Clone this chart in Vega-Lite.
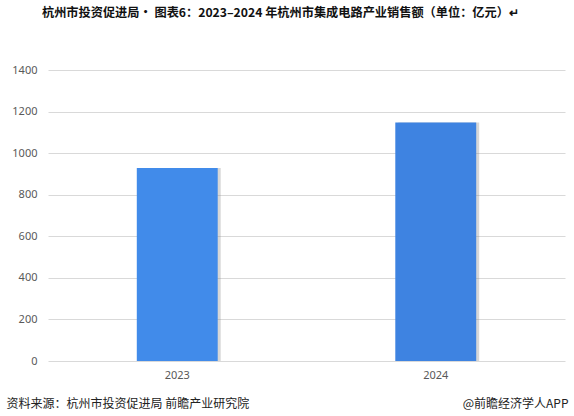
{
  "$schema": "https://vega.github.io/schema/vega-lite/v6.json",
  "width": 517,
  "height": 291,
  "autosize": {"type": "none"},
  "padding": {"left": 48, "top": 70, "right": 9, "bottom": 55},
  "background": "white",
  "title": {
    "text": "杭州市投资促进局· 图表6：2023–2024 年杭州市集成电路产业销售额（单位：亿元）↵",
    "anchor": "start",
    "frame": "group",
    "dx": -6,
    "offset": 45,
    "font": "Noto Sans CJK SC",
    "fontSize": 12.2,
    "fontWeight": "bold",
    "color": "#111111"
  },
  "data": {
    "values": [
      {"year": "2023", "sales": 929},
      {"year": "2024", "sales": 1147}
    ]
  },
  "config": {
    "view": {"stroke": null},
    "axis": {"labelFont": "Noto Sans", "titleFont": "Noto Sans CJK SC"}
  },
  "resolve": {"axis": {"x": "independent"}},
  "layer": [
    {
      "mark": {"type": "bar", "color": "#8c8c8c", "opacity": 0.35},
      "encoding": {
        "x": {
          "field": "year",
          "type": "nominal",
          "scale": {"paddingInner": 0.687, "paddingOuter": 0.3435},
          "axis": {
            "orient": "top",
            "labels": false,
            "ticks": false,
            "domain": false,
            "grid": false,
            "title": "@前瞻经济学人APP",
            "titleX": 520,
            "titleY": 333,
            "titleAlign": "right",
            "titleBaseline": "middle",
            "titleFontSize": 12,
            "titleFontWeight": "normal",
            "titleColor": "#222222"
          }
        },
        "xOffset": {"value": 3},
        "y": {"field": "sales", "type": "quantitative"}
      }
    },
    {
      "mark": {"type": "bar"},
      "encoding": {
        "x": {
          "field": "year",
          "type": "nominal",
          "axis": {
            "labelAngle": 0,
            "ticks": false,
            "domain": false,
            "labelColor": "#595959",
            "labelFontSize": 11,
            "labelPadding": 8,
            "title": "资料来源：杭州市投资促进局 前瞻产业研究院",
            "titleX": -42,
            "titleY": 42,
            "titleAlign": "left",
            "titleBaseline": "middle",
            "titleFontSize": 12,
            "titleFontWeight": "normal",
            "titleColor": "#222222"
          }
        },
        "y": {
          "field": "sales",
          "type": "quantitative",
          "scale": {"domain": [0, 1400], "nice": false},
          "axis": {
            "values": [0, 200, 400, 600, 800, 1000, 1200, 1400],
            "format": "d",
            "title": null,
            "domain": false,
            "ticks": false,
            "gridColor": "#d9d9d9",
            "labelColor": "#595959",
            "labelFontSize": 11,
            "labelPadding": 11
          }
        },
        "color": {
          "field": "year",
          "type": "nominal",
          "scale": {"domain": ["2023", "2024"], "range": ["#418BEA", "#3E83E1"]},
          "legend": null
        }
      }
    }
  ]
}
